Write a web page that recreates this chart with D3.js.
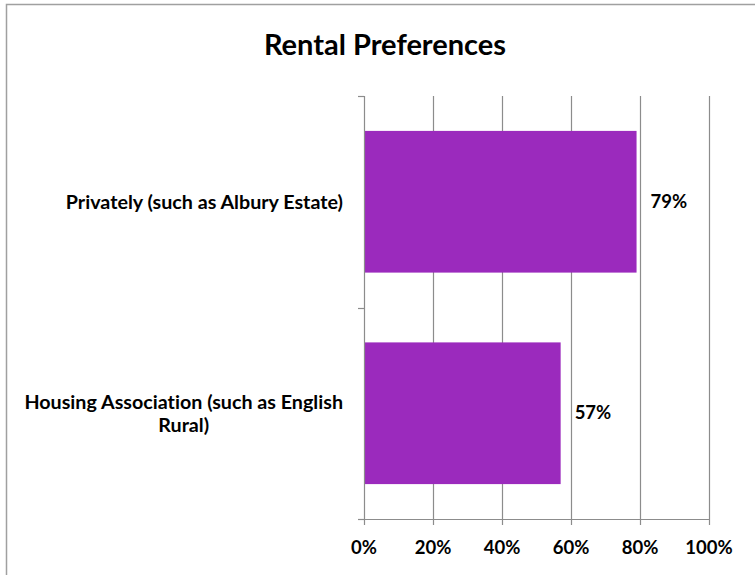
<!DOCTYPE html>
<html><head><meta charset="utf-8">
<script src="https://cdn.jsdelivr.net/npm/d3@7"></script>
<style>body{margin:0;background:#fff}svg{display:block}text{font-family:Lato,"Open Sans",sans-serif;font-weight:bold;fill:#000;font-variant-ligatures:none;font-feature-settings:"liga" 0,"dlig" 0}</style>
</head><body>
<script>
const categories = [["Privately (such as Albury Estate)"], ["Housing Association (such as English", "Rural)"]];
const values = [0.79, 0.57];
const valueLabels = ["79%", "57%"];
const tickValues = [0, 0.2, 0.4, 0.6, 0.8, 1.0];
const tickLabels = ["0%", "20%", "40%", "60%", "80%", "100%"];
const title = "Rental Preferences";

(function () {
const W = 755, H = 575;
const svg = d3.select("body").append("svg").attr("width", W).attr("height", H);
svg.append("rect").attr("x", 6.5).attr("y", 4.5).attr("width", W + 10).attr("height", H + 10)
  .attr("fill", "#fff").attr("stroke", "#a0a0a0").attr("stroke-width", 1.5);

const pl = 364, pr = 709, pt = 96, pb = 519;
const x = d3.scaleLinear().domain([0, 1]).range([pl, pr]);
const y = d3.scaleBand().domain(d3.range(categories.length)).range([pt, pb]).paddingInner(0.33).paddingOuter(0.165);
const grid = "#8c8c8c";

svg.append("text").attr("x", 385).attr("y", 55).attr("text-anchor", "middle")
  .style("font-size", "29px").text(title);

svg.append("g").selectAll("line").data(tickValues.slice(1)).join("line")
  .attr("x1", d => x(d) + 0.5).attr("x2", d => x(d) + 0.5)
  .attr("y1", pt).attr("y2", pb + 6).attr("stroke", grid).attr("stroke-width", 1.2);

svg.append("g").selectAll("rect").data(values).join("rect")
  .attr("x", x(0)).attr("y", (d, i) => y(i)).attr("width", d => x(d) - x(0))
  .attr("height", y.bandwidth()).attr("fill", "#9b2abd");

svg.append("line").attr("x1", pl + 0.5).attr("x2", pl + 0.5).attr("y1", pt).attr("y2", pb + 6)
  .attr("stroke", grid).attr("stroke-width", 1.2);
svg.append("line").attr("x1", pl - 6).attr("x2", pr + 1).attr("y1", pb + 0.5).attr("y2", pb + 0.5)
  .attr("stroke", grid).attr("stroke-width", 1.2);
const catEdges = [pt, (pt + pb) / 2, pb];
svg.append("g").selectAll("line").data(catEdges).join("line")
  .attr("x1", pl - 6).attr("x2", pl).attr("y1", d => Math.round(d) + 0.5).attr("y2", d => Math.round(d) + 0.5)
  .attr("stroke", grid).attr("stroke-width", 1.2);

svg.append("g").selectAll("text").data(tickValues).join("text")
  .attr("x", d => x(d)).attr("y", 554).attr("text-anchor", "middle")
  .style("font-size", "18.5px").text((d, i) => tickLabels[i]);

svg.append("g").selectAll("text").data(values).join("text")
  .attr("x", d => x(d) + 14).attr("y", (d, i) => y(i) + y.bandwidth() / 2 + 6)
  .style("font-size", "18.5px").text((d, i) => valueLabels[i]);

categories.forEach((lines, i) => {
  const g = svg.append("g");
  const ts = lines.map(l => g.append("text").style("font-size", "19.7px").text(l));
  const maxW = d3.max(ts, t => t.node().getComputedTextLength());
  const cx = 343 - maxW / 2;
  const lh = 23;
  const cy = y(i) + y.bandwidth() / 2;
  const y0 = cy - (lines.length - 1) * lh / 2 + 7;
  ts.forEach((t, k) => t.attr("x", cx).attr("y", y0 + k * lh).attr("text-anchor", "middle"));
});
})();
</script>
</body></html>
